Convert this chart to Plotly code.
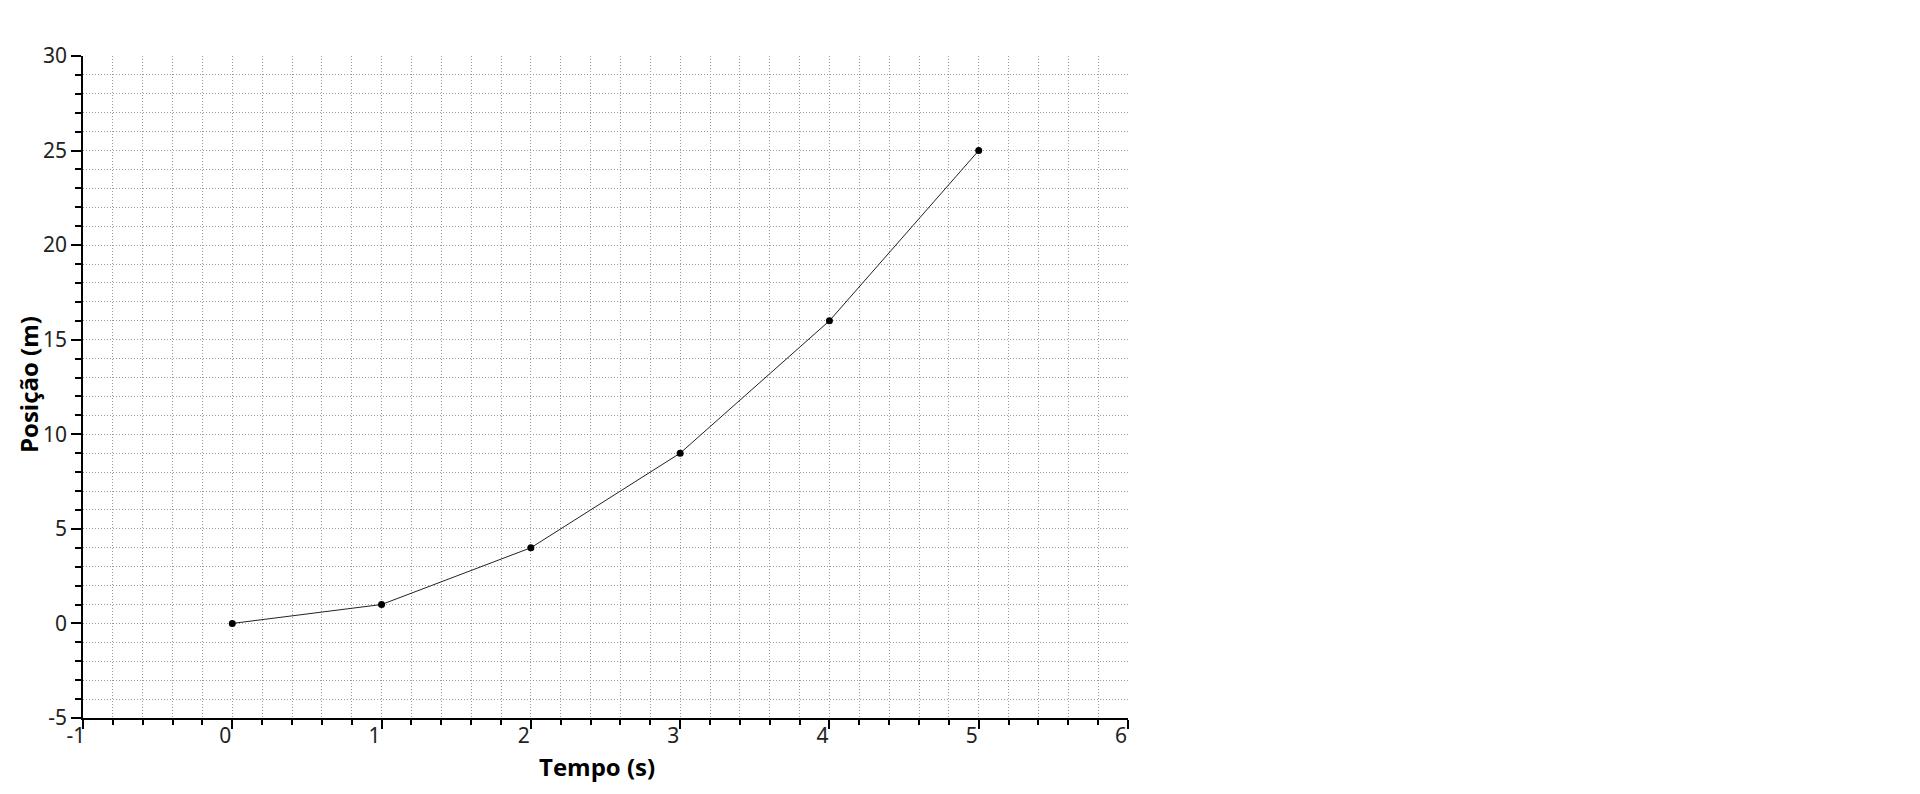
import plotly.graph_objects as go

tempo = [0, 1, 2, 3, 4, 5]
posicao = [0, 1, 4, 9, 16, 25]

x_ticks = [-1, 0, 1, 2, 3, 4, 5, 6]
y_ticks = [-5, 0, 5, 10, 15, 20, 25, 30]

FONT = "Noto Sans"
TITLE_FONT = "Open Sans"
GRID = "#9a9a9a"

fig = go.Figure()
fig.add_trace(go.Scatter(
    x=tempo, y=posicao, mode="lines+markers",
    line=dict(color="#222222", width=1),
    marker=dict(color="black", size=7),
    showlegend=False,
))

# page has an 8px body margin; size the figure to fit inside it
W, H = 1904, 778
ml, mt = 75, 48
pw, ph = 1045, 662
mr = W - ml - pw
mb = H - mt - ph

fig.update_layout(
    width=W, height=H,
    autosize=False,
    paper_bgcolor="white", plot_bgcolor="white",
    margin=dict(l=ml, r=mr, t=mt, b=mb, pad=0),
    font=dict(family=FONT, size=20, color="#222222"),
)

fig.update_xaxes(
    range=[-1, 6], automargin=False,
    tickvals=x_ticks, ticktext=[str(v) for v in x_ticks],
    showgrid=False, zeroline=False,
    showline=True, linecolor="black", linewidth=1.5,
    ticks="outside", ticklen=9, tickwidth=1.5, tickcolor="black",
    tickfont=dict(family=FONT, size=21, color="#222222"),
    ticklabelshift=-7, ticklabelstandoff=-11,
    minor=dict(dtick=0.2, showgrid=True, gridcolor=GRID, griddash="1px,2px",
               gridwidth=1, ticks="outside", ticklen=5, tickcolor="black", tickwidth=1.5),
)
fig.update_yaxes(
    range=[-5, 30], automargin=False,
    tickvals=y_ticks, ticktext=[str(v) for v in y_ticks],
    showgrid=False, zeroline=False,
    showline=True, linecolor="black", linewidth=1.5,
    ticks="outside", ticklen=10, tickwidth=1.5, tickcolor="black",
    tickfont=dict(family=FONT, size=21, color="#222222"),
    minor=dict(dtick=1, showgrid=True, gridcolor=GRID, griddash="1px,2px",
               gridwidth=1, ticks="outside", ticklen=6, tickcolor="black", tickwidth=1.5),
)

fig.add_annotation(
    text="<b>Tempo (s)</b>", xref="paper", yref="paper",
    x=(589 - ml) / pw, y=0, yshift=-48,
    xanchor="center", yanchor="middle", showarrow=False,
    font=dict(family=TITLE_FONT, size=24, color="black"),
)
fig.add_annotation(
    text="<b>Posição (m)</b>", xref="paper", yref="paper",
    x=0, xshift=20 - ml, y=0.5, yshift=2, textangle=-90,
    xanchor="center", yanchor="middle", showarrow=False,
    font=dict(family=TITLE_FONT, size=24, color="black"),
)

fig.write_html("out.html")
